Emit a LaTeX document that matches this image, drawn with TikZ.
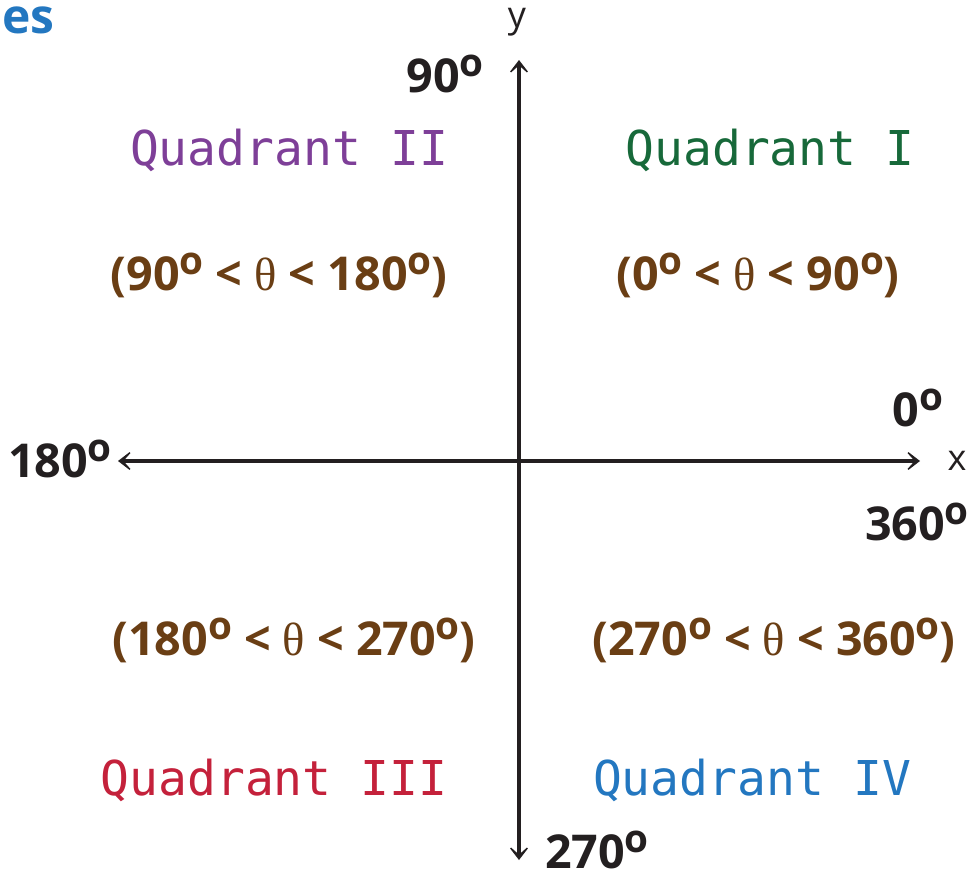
\documentclass[tikz,border=0pt]{standalone}
\usepackage{fontspec}
\setmainfont{Open Sans}
\newfontfamily\quadfont{DejaVu Sans Mono}
\newfontfamily\thetafont{Liberation Serif}
\usepackage{tikz}
\usetikzlibrary{arrows.meta,positioning}
\definecolor{qpurple}{HTML}{7E3F98}
\definecolor{qgreen}{HTML}{17693A}
\definecolor{qred}{HTML}{C4213B}
\definecolor{qblue}{HTML}{2377C0}
\definecolor{qbrown}{HTML}{6A3E14}
\definecolor{axisgray}{HTML}{231F20}
\newcommand{\dgr}{\raisebox{12pt}{\fontsize{29}{29}\selectfont o}}
\newcommand{\thet}{{\thetafont\mdseries θ}}
\tikzset{
  >={Stealth[length=13pt,width=20pt,inset=9pt]},
  % akser
  axisline/.style={<->,draw=axisgray,line width=2.3pt},
  axlbl/.style={font=\fontsize{27}{30}\selectfont,text=axisgray,inner sep=0pt},
  ang/.style={font=\fontsize{35}{40}\selectfont\bfseries,text=axisgray,inner sep=0pt},
  % kvadranter
  quad/.style={font=\fontsize{36}{40}\quadfont,inner sep=0pt},
  rangelbl/.style={font=\fontsize{35}{40}\selectfont\bfseries,text=qbrown,inner sep=0pt},
}
\begin{document}
\begin{tikzpicture}[x=0.75pt,y=-0.75pt]
  \useasboundingbox (0,0) rectangle (971,878);
  \node[font=\fontsize{36}{40}\selectfont\bfseries,text=qblue,anchor=west,inner sep=0pt] (title) at (2,20) {es};
  % axes
  \coordinate (xl) at (118,461);
  \coordinate (xr) at (920,461);
  \coordinate (yt) at (519,60);
  \coordinate (yb) at (519,860);
  \draw[axisline] (xl) -- (xr);
  \draw[axisline] (yb) -- (yt);
  \node[axlbl] (ylbl) at (517,22) {y};
  \node[axlbl] (xlbl) at (957,461) {x};
  % vinklar
  \node[ang] (a90) at (445,74) {90\dgr};
  \node[ang] (a0) at (918,408) {0\dgr};
  \node[ang] (a360) at (917,522) {360\dgr};
  \node[ang] (a180) at (60,459) {180\dgr};
  \node[ang] (a270) at (597,850) {270\dgr};
  % kvadranter
  \node[quad,text=qpurple] (q2) at (289,150) {Quadrant II};
  \node[quad,text=qgreen] (q1) at (770,150) {Quadrant I};
  \node[quad,text=qred] (q3) at (274,780) {Quadrant III};
  \node[quad,text=qblue] (q4) at (752,780) {Quadrant IV};
  \node[rangelbl] (r2) at (279,275) {(90\dgr{} < \thet{} < 180\dgr)};
  \node[rangelbl] (r1) at (758,275) {(0\dgr{} < \thet{} < 90\dgr)};
  \node[rangelbl] (r3) at (294,640) {(180\dgr{} < \thet{} < 270\dgr)};
  \node[rangelbl] (r4) at (774,640) {(270\dgr{} < \thet{} < 360\dgr)};
\end{tikzpicture}
\end{document}
